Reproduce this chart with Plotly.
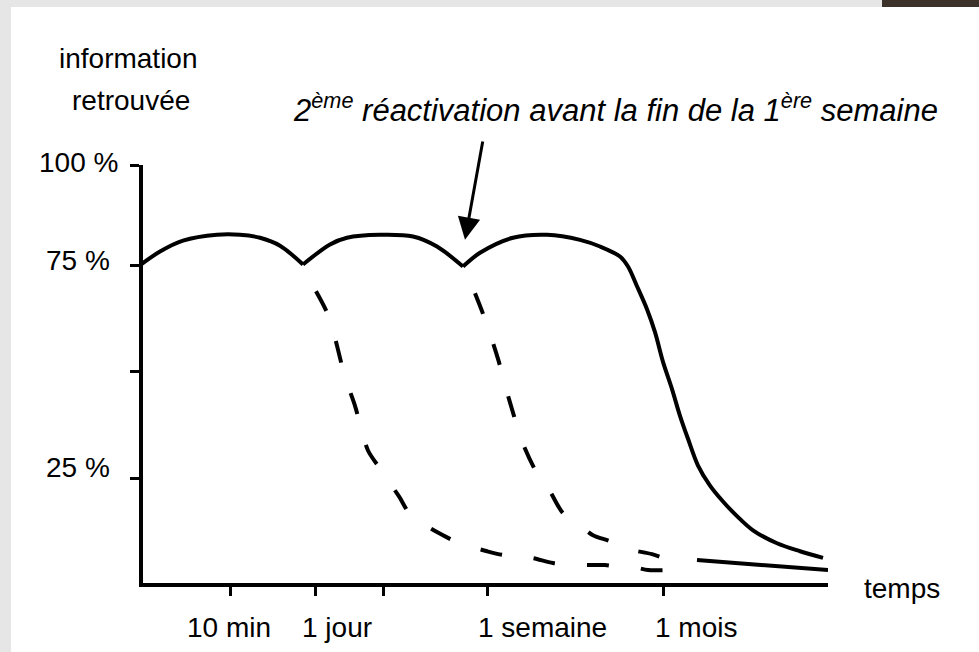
import plotly.graph_objects as go

# ---------------- data ----------------
# time axis in arbitrary units (0 = origin), retrieved information in %
solid_t = [0, 19, 42, 76, 99, 119, 139, 162,
           189, 206, 239, 272, 296, 322,
           339, 372, 406, 439, 459, 479, 487, 496, 506, 514, 522, 531, 539, 547, 557, 569, 582, 596, 612, 636, 659, 682]
solid_y = [76.2, 79.3, 81.9, 83.3, 83.3, 82.6, 80.7, 76.2,
           81.0, 82.6, 83.3, 82.9, 80.5, 75.7,
           79.0, 82.6, 83.3, 82.1, 80.5, 78.1, 75.7, 71.0, 65.5, 60.0, 52.9, 46.4, 40.0, 34.5, 28.1, 23.3,
           19.5, 16.0, 12.6, 9.5, 7.6, 6.0]
dip_index = [7, 13]  # sharp reactivation points

decay1_t = [175, 188, 204, 214, 227, 239, 258, 270, 302, 319, 346, 362, 391, 412, 442, 464, 479, 492, 507, 526]
decay1_y = [69.8, 63.6, 49.3, 42.4, 31.7, 27.4, 20.7, 16.2, 11.4, 9.5, 7.6, 6.7, 6.0, 4.8, 4.3, 4.3, 3.8, 3.8, 3.1, 3.1]

decay2_t = [334, 344, 357, 368, 382, 395, 409, 422, 439, 452, 469, 484, 511, 522]
decay2_y = [69.3, 63.1, 53.6, 44.0, 33.3, 26.7, 21.9, 16.7, 13.8, 11.4, 10.0, 8.3, 6.9, 6.0]

tail_t = [556, 620, 687]
tail_y = [5.5, 4.3, 3.1]

x_tick_vals = [89, 174, 242, 346, 522]
x_labels = ["10 min", "1 jour", "1 semaine", "1 mois"]

y_tick_vals = [100, 76, 50.7, 25]
y_labels = ["100 %", "75 %", "25 %"]

arrow_tip = (324, 82.1)
arrow_tail = (342, 106)

# ---------------- layout helpers (pixel positions) ----------------
W, H = 979, 652
ML, MR, MT, MB = 143, 151, 165, 69
FONT = "Liberation Sans, Arial, sans-serif"

x_label_px = [229, 337, 542, 696]
y_label_px = [(120, 162), (112, 260), (112, 467)]


def px_x(p):
    return (p - ML) / (W - ML - MR)


def px_y(p):
    return (H - MB - p) / (H - MT - MB)


fig = go.Figure()

cuts = [0] + dip_index + [len(solid_t) - 1]
for a, b in zip(cuts[:-1], cuts[1:]):
    fig.add_trace(go.Scatter(x=solid_t[a:b + 1], y=solid_y[a:b + 1], mode="lines",
                             line=dict(color="black", width=4, shape="spline", smoothing=0.9),
                             hoverinfo="skip", showlegend=False, cliponaxis=False))

for tx, ty in [(decay1_t, decay1_y), (decay2_t, decay2_y)]:
    fig.add_trace(go.Scatter(x=tx, y=ty, mode="lines",
                             line=dict(color="black", width=4, dash="22px,32px",
                                       shape="spline", smoothing=0.8),
                             hoverinfo="skip", showlegend=False))

fig.add_trace(go.Scatter(x=tail_t, y=tail_y, mode="lines",
                         line=dict(color="black", width=4, shape="spline"),
                         hoverinfo="skip", showlegend=False))

annotations = []
for lab, pos in zip(x_labels, x_label_px):
    annotations.append(dict(x=px_x(pos), y=px_y(627), xref="paper", yref="paper", text=lab,
                            showarrow=False, xanchor="center", yanchor="middle", font=dict(size=28)))
for lab, (xr, yc) in zip(y_labels, y_label_px):
    annotations.append(dict(x=px_x(xr), y=px_y(yc), xref="paper", yref="paper", text=lab,
                            showarrow=False, xanchor="right", yanchor="middle", font=dict(size=28)))
annotations.append(dict(x=px_x(862), y=px_y(588), xref="paper", yref="paper", text="temps",
                        showarrow=False, xanchor="left", yanchor="middle", font=dict(size=28)))
annotations.append(dict(x=px_x(128), y=px_y(58), xref="paper", yref="paper", text="information",
                        showarrow=False, xanchor="center", yanchor="middle", font=dict(size=28)))
annotations.append(dict(x=px_x(131), y=px_y(100), xref="paper", yref="paper", text="retrouvée",
                        showarrow=False, xanchor="center", yanchor="middle", font=dict(size=28)))
annotations.append(dict(x=px_x(615), y=px_y(108), xref="paper", yref="paper",
                        text="2<sup>ème</sup> réactivation avant la fin de la 1<sup>ère</sup> semaine",
                        showarrow=False, xanchor="center", yanchor="middle",
                        font=dict(size=31, style="italic")))
annotations.append(dict(x=arrow_tip[0], y=arrow_tip[1], ax=arrow_tail[0], ay=arrow_tail[1],
                        xref="x", yref="y", axref="x", ayref="y", text="", showarrow=True,
                        arrowhead=2, arrowsize=1.5, arrowwidth=3, arrowcolor="black", standoff=0))

shapes = [
    dict(type="rect", xref="paper", yref="paper", x0=px_x(11), x1=px_x(W), y0=px_y(7), y1=px_y(H),
         fillcolor="white", line=dict(width=0), layer="below"),
    dict(type="rect", xref="paper", yref="paper", x0=px_x(882), x1=px_x(W), y0=px_y(0), y1=px_y(7),
         fillcolor="#3d3229", line=dict(width=0), layer="below"),
]

fig.update_layout(
    width=W, height=H, autosize=False,
    margin=dict(l=ML, r=MR, t=MT, b=MB, pad=0),
    paper_bgcolor="#e6e6e6", plot_bgcolor="white",
    font=dict(family=FONT, color="black", size=28),
    showlegend=False, hovermode=False,
    annotations=annotations, shapes=shapes,
    xaxis=dict(range=[2, 687], showgrid=False, zeroline=False, showline=True, linecolor="black",
               linewidth=4, ticks="outside", ticklen=9, tickwidth=3, tickcolor="black",
               tickvals=x_tick_vals, showticklabels=False, fixedrange=True),
    yaxis=dict(range=[0, 100], showgrid=False, zeroline=False, showline=True, linecolor="black",
               linewidth=4, ticks="outside", ticklen=9, tickwidth=3, tickcolor="black",
               tickvals=y_tick_vals, showticklabels=False, fixedrange=True),
)

fig.write_html("out.html", config={"displayModeBar": False, "staticPlot": True},
               post_script="document.body.style.margin='0px';document.body.style.overflow='hidden';")
